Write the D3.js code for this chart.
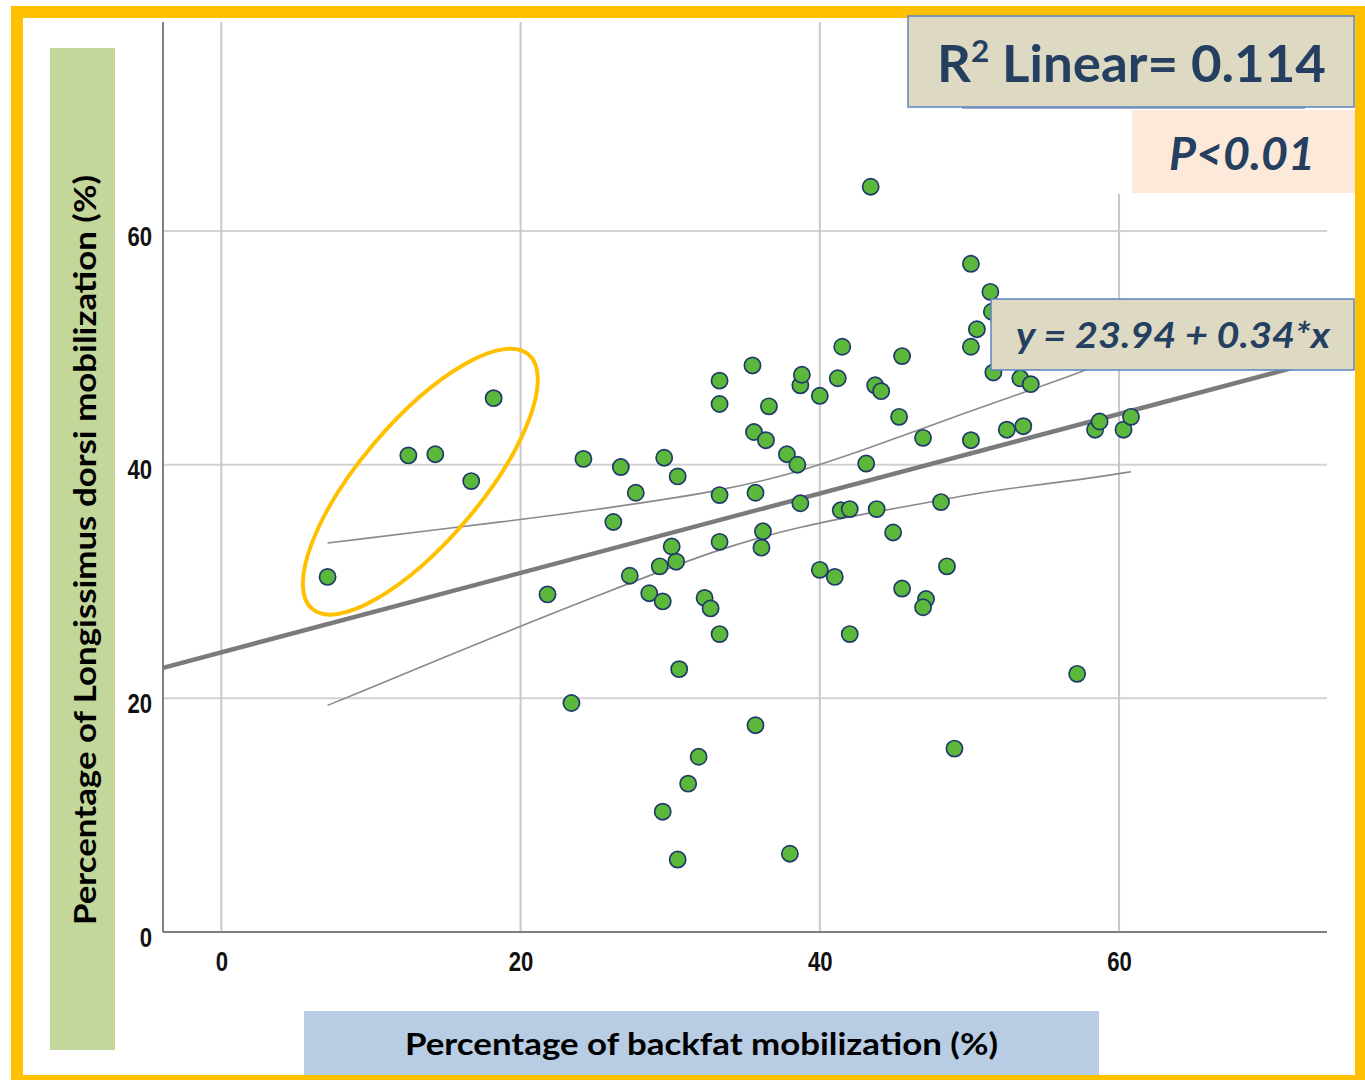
<!DOCTYPE html>
<html>
<head>
<meta charset="utf-8">
<script src="https://cdn.jsdelivr.net/npm/d3@7"></script>
<style>
    body { margin: 0; background: #fff; }
    svg { display: block; }
</style>
</head>
<body>
<svg id="chart" width="1365" height="1080"></svg>
<script>
// === Data ===
const xTicks = [0, 20, 40, 60];
const yTicks = [0, 20, 40, 60];

// backfat mobilization (%) vs Longissimus dorsi mobilization (%)
const backfat = [7.1, 12.5, 14.3, 16.7, 18.2, 21.8, 23.4, 24.2, 26.2, 26.7,
    27.3, 27.7, 28.6, 29.3, 29.5, 29.5, 29.6, 30.1, 30.4, 30.5,
    30.5, 30.6, 31.2, 31.9, 32.3, 32.7, 33.3, 33.3, 33.3, 33.3,
    33.3, 35.5, 35.6, 35.7, 35.7, 36.1, 36.2, 36.4, 36.6, 37.8,
    38.0, 38.5, 38.7, 38.7, 38.8, 40.0, 40.0, 41.0, 41.2, 41.4,
    41.5, 42.0, 42.0, 43.4, 43.1, 43.7, 44.1, 43.8, 44.9, 45.3,
    45.5, 45.5, 46.9, 47.1, 46.9, 48.1, 48.5, 49.0, 50.1, 50.1,
    50.1, 50.5, 51.4, 51.5, 51.6, 52.5, 53.4, 53.6, 54.1, 57.2,
    58.4, 58.7, 60.3, 60.8];
const longissimus = [30.4, 40.8, 40.9, 38.6, 45.7, 28.9, 19.6, 40.5, 35.1, 39.8,
    30.5, 37.6, 29.0, 31.3, 10.3, 28.3, 40.6, 33.0, 31.7, 39.0,
    6.2, 22.5, 12.7, 15.0, 28.6, 27.7, 47.2, 45.2, 37.4, 33.4,
    25.5, 48.5, 42.8, 37.6, 17.7, 32.9, 34.3, 42.1, 45.0, 40.9,
    6.7, 40.0, 46.8, 36.7, 47.7, 45.9, 31.0, 30.4, 47.4, 36.1,
    50.1, 36.2, 25.5, 63.8, 40.1, 46.8, 46.3, 36.2, 34.2, 44.1,
    49.3, 29.4, 42.3, 28.5, 27.8, 36.8, 31.3, 15.7, 57.2, 50.1,
    42.1, 51.6, 54.8, 53.1, 47.9, 43.0, 47.4, 43.3, 46.9, 22.1,
    43.0, 43.7, 43.0, 44.1];

// fit line: y = 23.94 + 0.34*x, drawn over this x span
const fitIntercept = 23.94;
const fitSlope = 0.34;
const fitRange = [-3.9, 71.8];

// 95% confidence band of the mean
const bandX = [7.1, 20, 24.2, 33.3, 38.7, 43.4, 46.9, 49.4, 52.1, 57.9, 60.8];
const bandUpper = [33.3, 35.3, 36.0, 37.7, 39.4, 41.5, 43.1, 44.3, 45.5, 48.1, 49.7];
const bandLower = [19.4, 26.2, 28.3, 32.9, 34.7, 35.9, 36.7, 37.3, 37.9, 38.8, 39.4];

// highlighted group (ellipse centre, data units)
const highlightCentre = [13.3, 38.55];

// === Layout ===
const svg = d3.select('#chart');
const FONT = 'Lato, "Open Sans", sans-serif';
const NAVY = '#243f60';

const xScale = d3.scaleLinear().domain([-3.9, 73.9]).range([163, 1327]);
const yScale = d3.scaleLinear().domain([0, 77.9]).range([932, 22]);

// Frame
svg.append('rect')
    .attr('x', 11).attr('y', 6)
    .attr('width', 1365 - 11).attr('height', 1080 - 6)
    .attr('fill', '#ffc000');
svg.append('rect')
    .attr('x', 23).attr('y', 18)
    .attr('width', 1332).attr('height', 1057)
    .attr('fill', '#fff');

const plot = svg.append('g');

// Grid
plot.append('g').selectAll('line')
    .data(yTicks.filter(d => d > 0))
    .join('line')
    .attr('x1', xScale.range()[0]).attr('x2', xScale.range()[1])
    .attr('y1', d => yScale(d)).attr('y2', d => yScale(d))
    .attr('stroke', '#d2d2d2').attr('stroke-width', 2);

plot.append('g').selectAll('line')
    .data(xTicks)
    .join('line')
    .attr('x1', d => xScale(d)).attr('x2', d => xScale(d))
    .attr('y1', yScale.range()[1]).attr('y2', yScale.range()[0])
    .attr('stroke', '#c8c8c8').attr('stroke-width', 2);

// Axes
const xAxis = d3.axisBottom(xScale).tickValues(xTicks).tickSize(0).tickFormat(d3.format('d'));
const yAxis = d3.axisLeft(yScale).tickValues(yTicks).tickSize(0).tickFormat(d3.format('d'));

const tickFont = '"Liberation Sans Narrow", "Arial Narrow", "Liberation Sans", sans-serif';

// narrow, bold tick labels (condensed horizontally)
function styleTicks(g, shift) {
    g.select('.domain').remove();
    g.selectAll('text')
        .attr('x', null).attr('y', null).attr('dy', null)
        .attr('transform', `translate(${shift}) scale(0.82,1)`)
        .attr('fill', '#111')
        .style('font-family', tickFont)
        .style('font-weight', 'bold')
        .style('font-size', '27px');
}

plot.append('g')
    .attr('transform', `translate(0,${yScale(0)})`)
    .call(xAxis)
    .call(g => styleTicks(g, '0,39'));

plot.append('g')
    .attr('transform', `translate(${xScale.range()[0]},0)`)
    .call(yAxis)
    .call(g => styleTicks(g, '-11,14'));

// axis lines
plot.append('line')
    .attr('x1', xScale.range()[0]).attr('x2', xScale.range()[1])
    .attr('y1', yScale(0)).attr('y2', yScale(0))
    .attr('stroke', '#7f7f7f').attr('stroke-width', 2);
plot.append('line')
    .attr('x1', xScale.range()[0]).attr('x2', xScale.range()[0])
    .attr('y1', yScale.range()[1]).attr('y2', yScale(0))
    .attr('stroke', '#7f7f7f').attr('stroke-width', 2);

// Confidence band lines
const bandLine = d3.line()
    .x(d => xScale(d[0]))
    .y(d => yScale(d[1]))
    .curve(d3.curveBasis);

[bandUpper, bandLower].forEach(vals => {
    plot.append('path')
        .attr('d', bandLine(bandX.map((x, i) => [x, vals[i]])))
        .attr('fill', 'none')
        .attr('stroke', '#8a8a8a')
        .attr('stroke-width', 1.6);
});

// Fit line
plot.append('path')
    .attr('d', d3.line()
        .x(d => xScale(d))
        .y(d => yScale(fitIntercept + fitSlope * d))(fitRange))
    .attr('stroke', '#7b7b7b')
    .attr('stroke-width', 4.5)
    .attr('fill', 'none');

// Points
const points = backfat.map((x, i) => ({ x, y: longissimus[i] }));
plot.append('g').selectAll('circle')
    .data(points)
    .join('circle')
    .attr('cx', d => xScale(d.x))
    .attr('cy', d => yScale(d.y))
    .attr('r', 8.1)
    .attr('fill', '#5cb83a')
    .attr('stroke', '#1f3a6b')
    .attr('stroke-width', 1.7);

// Highlight ellipse
svg.append('ellipse')
    .attr('transform', `translate(${xScale(highlightCentre[0])},${yScale(highlightCentre[1])}) rotate(-49.6)`)
    .attr('rx', 167).attr('ry', 60)
    .attr('fill', 'none')
    .attr('stroke', '#ffc000')
    .attr('stroke-width', 4);

// === Annotation boxes ===
// leftover blank under the R² box
svg.append('rect')
    .attr('x', 962).attr('y', 106)
    .attr('width', 172).attr('height', 88)
    .attr('fill', '#fff');
svg.append('line')
    .attr('x1', 962).attr('x2', 1305)
    .attr('y1', 108).attr('y2', 108)
    .attr('stroke', '#7f95b8').attr('stroke-width', 1.5);

// R² box
svg.append('rect')
    .attr('x', 908).attr('y', 16)
    .attr('width', 446).attr('height', 91)
    .attr('fill', '#ddd9c3')
    .attr('stroke', '#5b84c0').attr('stroke-width', 1.5);
const r2 = svg.append('text')
    .attr('x', 937).attr('y', 82)
    .attr('textLength', 389)
    .attr('lengthAdjust', 'spacingAndGlyphs')
    .attr('fill', NAVY)
    .style('font-family', FONT)
    .style('font-weight', 'bold')
    .style('font-size', '52px');
r2.append('tspan').text('R');
r2.append('tspan').attr('dy', -20).style('font-size', '31px').text('2');
r2.append('tspan').attr('dy', 20).text(' Linear= 0.114');

// P box
svg.append('rect')
    .attr('x', 1132).attr('y', 110)
    .attr('width', 223).attr('height', 83)
    .attr('fill', '#fde9d9');
svg.append('text')
    .attr('x', 1169).attr('y', 170)
    .attr('textLength', 146)
    .attr('lengthAdjust', 'spacingAndGlyphs')
    .attr('fill', NAVY)
    .style('font-family', FONT)
    .style('font-weight', 'bold')
    .style('font-style', 'italic')
    .style('font-size', '46px')
    .text('P<0.01');

// Equation box
svg.append('rect')
    .attr('x', 991).attr('y', 299)
    .attr('width', 363).attr('height', 71)
    .attr('fill', '#ddd9c3')
    .attr('stroke', '#5b84c0').attr('stroke-width', 1.5);
svg.append('text')
    .attr('x', 1016).attr('y', 348)
    .attr('textLength', 314)
    .attr('lengthAdjust', 'spacingAndGlyphs')
    .attr('fill', NAVY)
    .style('font-family', FONT)
    .style('font-weight', 'bold')
    .style('font-style', 'italic')
    .style('font-size', '36px')
    .text('y = 23.94 + 0.34*x');

// === Axis titles ===
svg.append('rect')
    .attr('x', 50).attr('y', 48)
    .attr('width', 65).attr('height', 1002)
    .attr('fill', '#c4d79b');
svg.append('text')
    .attr('transform', 'translate(96,925) rotate(-90)')
    .attr('textLength', 750)
    .attr('lengthAdjust', 'spacingAndGlyphs')
    .attr('fill', '#000')
    .style('font-family', FONT)
    .style('font-weight', 'bold')
    .style('font-size', '31px')
    .text('Percentage of Longissimus dorsi mobilization (%)');

svg.append('rect')
    .attr('x', 304).attr('y', 1011)
    .attr('width', 795).attr('height', 64)
    .attr('fill', '#b8cce4');
svg.append('text')
    .attr('x', 405).attr('y', 1055)
    .attr('textLength', 593)
    .attr('lengthAdjust', 'spacingAndGlyphs')
    .attr('fill', '#000')
    .style('font-family', FONT)
    .style('font-weight', 'bold')
    .style('font-size', '31px')
    .text('Percentage of backfat mobilization (%)');
</script>
</body>
</html>
